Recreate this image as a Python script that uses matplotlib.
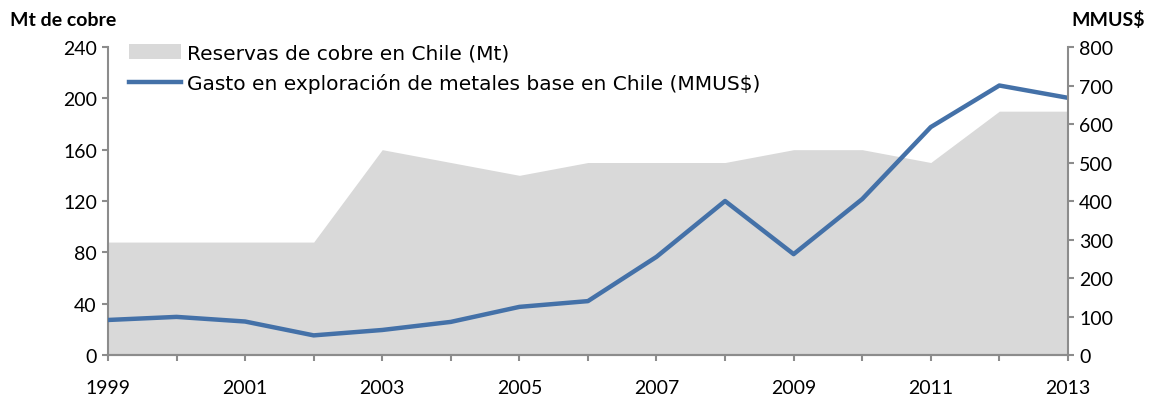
import numpy as np
import matplotlib
matplotlib.use('Agg')
import matplotlib.pyplot as plt

years = [1999, 2000, 2001, 2002, 2003, 2004, 2005, 2006, 2007, 2008, 2009, 2010, 2011, 2012, 2013]
reservas = [88, 88, 88, 88, 160, 150, 140, 150, 150, 150, 160, 160, 150, 190, 190]  # Mt
gasto = [91, 99, 87, 51, 65, 86, 125, 140, 255, 400, 262, 405, 592, 700, 668]  # MMUS$

plt.rcParams['font.family'] = ['Lato', 'DejaVu Sans']
gray = '#8c8c8c'

fig = plt.figure(figsize=(11.51, 4.02), dpi=100)
ax = fig.add_axes([0.0938, 0.1144, 0.834, 0.7662])
ax2 = ax.twinx()

ax.fill_between(years, reservas, 0, color='#d9d9d9', lw=0, label='Reservas de cobre en Chile (Mt)')
ax2.plot(years, gasto, color='#4471a8', lw=3.2, label='Gasto en exploración de metales base en Chile (MMUS$)')

ax.set_xlim(1999, 2013)
ax.set_ylim(0, 240)
ax.set_yticks(np.arange(0, 241, 40))
ax2.set_ylim(0, 800)
ax2.set_yticks(np.arange(0, 801, 100))
ax.set_xticks(np.arange(1999, 2014, 2))
ax.set_xticks(np.arange(1999, 2014, 1), minor=True)

for a in (ax, ax2):
    a.spines['top'].set_visible(False)
    for s in ['left', 'right', 'bottom']:
        a.spines[s].set_color(gray)
        a.spines[s].set_linewidth(1.5)
    a.tick_params(axis='both', which='both', color=gray, width=1.5, length=4.5, labelsize=14)
ax.tick_params(axis='x', pad=13)
ax2.spines['left'].set_visible(False)
ax.spines['right'].set_visible(False)

h1, l1 = ax.get_legend_handles_labels()
h2, l2 = ax2.get_legend_handles_labels()
ax2.legend(h1 + h2, l1 + l2, loc='upper left', bbox_to_anchor=(0.003, 1.07), frameon=False,
           prop={'family': 'DejaVu Sans', 'size': 14.5}, handlelength=2.6, handletextpad=0.3,
           labelspacing=0.5)

fig.text(0.009, 0.95, 'Mt de cobre', fontsize=14, fontweight='bold', ha='left', va='center')
fig.text(0.995, 0.95, 'MMUS$', fontsize=14, fontweight='bold', ha='right', va='center')

fig.savefig('out.png', dpi=100)
